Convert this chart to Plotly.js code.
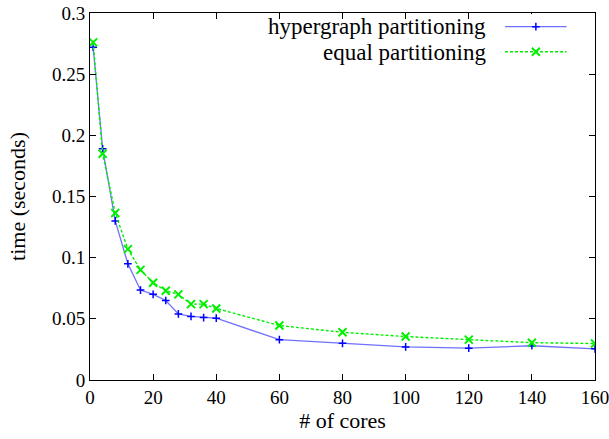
<!DOCTYPE html>
<html>
<head>
<meta charset="utf-8">
<script src="https://cdn.plot.ly/plotly-3.0.1.min.js"></script>
<style>html,body{margin:0;padding:0;background:#fff}#chart{width:609px;height:439px}</style>
</head>
<body>
<div id="chart"></div>
<script>
const cores = [1, 4, 8, 12, 16, 20, 24, 28, 32, 36, 40, 60, 80, 100, 120, 140, 160];
const hypergraphTime = [0.272, 0.189, 0.130, 0.095, 0.0735, 0.070, 0.065, 0.054, 0.052, 0.051, 0.0505, 0.033, 0.030, 0.027, 0.026, 0.028, 0.0255];
const equalTime = [0.276, 0.185, 0.1365, 0.107, 0.090, 0.0795, 0.073, 0.070, 0.062, 0.062, 0.0585, 0.0445, 0.039, 0.0355, 0.033, 0.0305, 0.0298];
const seriesNames = ["hypergraph partitioning", "equal partitioning"];
const xTicks = [0, 20, 40, 60, 80, 100, 120, 140, 160];
const yTicks = [0, 0.05, 0.1, 0.15, 0.2, 0.25, 0.3];
const yTickText = ["0", "0.05", "0.1", "0.15", "0.2", "0.25", "0.3"];

const FONT = "Liberation Serif";
const blueLine = "#7070ff";
const blueMark = "#0000ff";
const green = "#00f000";

const traces = [
  {x: cores, y: hypergraphTime, name: seriesNames[0], type: "scatter", mode: "lines+markers",
   line: {color: blueLine, width: 1.3},
   marker: {symbol: "cross-thin", size: 5.5, line: {color: blueMark, width: 1.5}, color: blueMark}},
  {x: cores, y: equalTime, name: seriesNames[1], type: "scatter", mode: "lines+markers",
   line: {color: green, width: 1.4, dash: "3px,2px"},
   marker: {symbol: "x-thin", size: 8, line: {color: green, width: 2}, color: green}},
  // legend samples on an overlay axis (not data)
  {x: [0, 1], y: [1, 1], xaxis: "x2", yaxis: "y2", mode: "lines", showlegend: false, hoverinfo: "skip",
   line: {color: blueLine, width: 1.3}},
  {x: [0.5], y: [1], xaxis: "x2", yaxis: "y2", mode: "markers", showlegend: false, hoverinfo: "skip",
   marker: {symbol: "cross-thin", size: 5.5, line: {color: blueMark, width: 1.5}}},
  {x: [0, 1], y: [0, 0], xaxis: "x2", yaxis: "y2", mode: "lines", showlegend: false, hoverinfo: "skip",
   line: {color: green, width: 1.4, dash: "3px,2px"}},
  {x: [0.5], y: [0], xaxis: "x2", yaxis: "y2", mode: "markers", showlegend: false, hoverinfo: "skip",
   marker: {symbol: "x-thin", size: 8, line: {color: green, width: 2}}}
];

const layout = {
  width: 609, height: 439,
  margin: {l: 90, r: 14, t: 13, b: 59},
  paper_bgcolor: "#fff", plot_bgcolor: "#fff",
  showlegend: false,
  font: {family: FONT, size: 19, color: "#000"},
  xaxis: {range: [0, 160], tickvals: xTicks, ticks: "inside", ticklen: 6, tickcolor: "#000",
          showline: true, linecolor: "#000", linewidth: 1, mirror: "allticks", showgrid: false, zeroline: false,
          ticklabeloverflow: "allow",
          tickfont: {family: FONT, size: 19, color: "#000"}, title: {text: "# of cores", font: {family: FONT, size: 22, color: "#000"}, standoff: 5}},
  yaxis: {range: [0, 0.3], tickvals: yTicks, ticktext: yTickText, ticks: "inside", ticklen: 6, tickcolor: "#000",
          showline: true, linecolor: "#000", linewidth: 1, mirror: "allticks", showgrid: false, zeroline: false,
          ticklabeloverflow: "allow",
          tickfont: {family: FONT, size: 19, color: "#000"}, title: {text: "time (seconds)", font: {family: FONT, size: 22, color: "#000"}, standoff: 20}},
  xaxis2: {domain: [0.8218, 0.944], range: [0, 1], visible: false, fixedrange: true, anchor: "y2"},
  yaxis2: {domain: [0.8601, 0.9969], range: [-0.5, 1.5], visible: false, fixedrange: true, anchor: "x2"},
  annotations: [
    {xref: "paper", yref: "paper", x: 0.7887, y: 0.9632, xanchor: "right", yanchor: "middle", showarrow: false,
     text: seriesNames[0], font: {family: FONT, size: 23, color: "#000"}},
    {xref: "paper", yref: "paper", x: 0.7887, y: 0.8937, xanchor: "right", yanchor: "middle", showarrow: false,
     text: seriesNames[1], font: {family: FONT, size: 23, color: "#000"}}
  ]
};

Plotly.newPlot("chart", traces, layout, {displayModeBar: false});
</script>
</body>
</html>
